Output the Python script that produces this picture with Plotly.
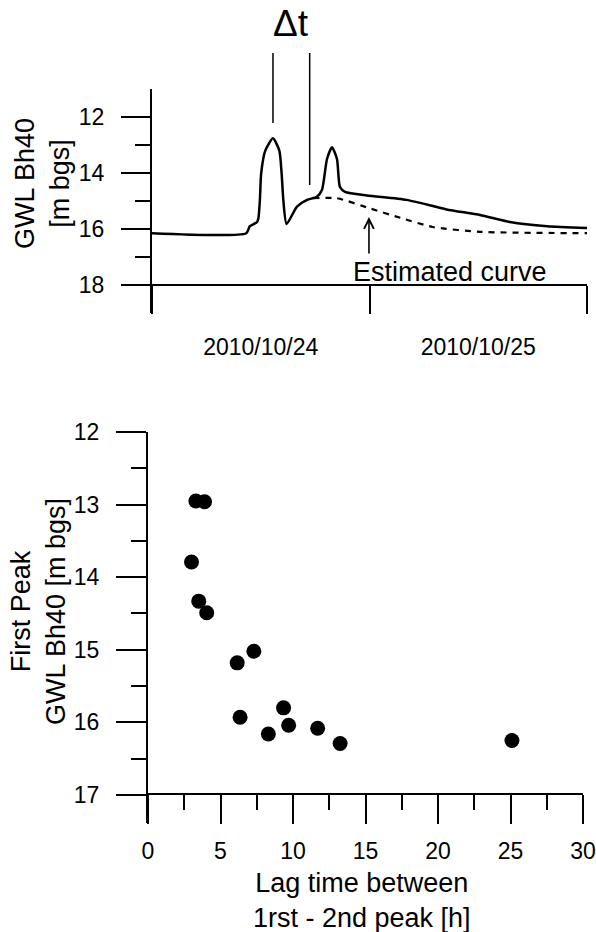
import plotly.graph_objects as go

# ---------------- data ----------------
# Top panel: groundwater level time series (hours since 2010-10-24 00:00)
obs_hours = [0, 10.4, 10.8, 11.6, 11.75, 11.9, 12.05, 12.5, 13.35, 14.05, 14.3, 14.5, 14.85,
             16.0, 17.1, 18.2, 18.76, 19.31, 19.86, 20.41, 20.74, 21.3, 23.7, 28.1, 32.5,
             36.2, 39.5, 43.6, 48]
obs_gwl = [16.15, 16.15, 15.9, 15.75, 15.6, 15.0, 14.0, 13.2, 12.76, 13.2, 14.0, 15.0, 15.82,
           15.2, 14.96, 14.85, 14.6, 13.5, 13.08, 13.5, 14.5, 14.67, 14.8, 14.96, 15.3,
           15.5, 15.75, 15.9, 15.96]
est_hours = [17.8, 20.4, 24.1, 27.4, 31.0, 36.2, 48]
est_gwl = [14.9, 14.9, 15.27, 15.6, 15.93, 16.1, 16.15]
day_labels = ["2010/10/24", "2010/10/25"]
day_label_pos = [12, 36]
peak_hours = [13.35, 17.4]   # first peak / start of second rise (Δt markers)

# Bottom panel: lag time vs first peak level
lag_h = [3.3, 3.9, 3.0, 3.5, 4.05, 6.15, 7.3, 6.35, 9.35, 9.7, 8.3, 11.7, 13.25, 25.1]
first_peak = [12.95, 12.96, 13.79, 14.33, 14.49, 15.18, 15.02, 15.93, 15.8, 16.04, 16.16,
              16.08, 16.29, 16.25]

FONT = "Liberation Sans, Arial, sans-serif"
BLACK = "#000000"

fig = go.Figure()

fig.add_trace(go.Scatter(x=obs_hours, y=obs_gwl, mode="lines",
                         line=dict(color=BLACK, width=2.5, shape="spline", smoothing=0.6),
                         xaxis="x", yaxis="y", showlegend=False))
fig.add_trace(go.Scatter(x=est_hours, y=est_gwl, mode="lines",
                         line=dict(color=BLACK, width=2.2, dash="6px,6px", shape="spline",
                                   smoothing=0.6),
                         xaxis="x", yaxis="y", showlegend=False))
fig.add_trace(go.Scatter(x=lag_h, y=first_peak, mode="markers",
                         marker=dict(color=BLACK, size=15),
                         xaxis="x2", yaxis="y2", showlegend=False))

tickfont = dict(family=FONT, size=23, color=BLACK)
titlefont = dict(family=FONT, size=27, color=BLACK)

fig.update_layout(
    width=596, height=932,
    margin=dict(l=0, r=0, t=0, b=0, autoexpand=False),
    paper_bgcolor="white", plot_bgcolor="white",
    font=dict(family=FONT, color=BLACK),
    xaxis=dict(domain=[152 / 596, 587 / 596], range=[0, 48], anchor="free",
               position=1 - 285 / 932, side="bottom",
               showline=True, linecolor=BLACK, linewidth=2,
               showgrid=False, zeroline=False,
               tickmode="array", tickvals=day_label_pos, ticktext=day_labels,
               ticks="outside", ticklen=28, tickcolor="rgba(0,0,0,0)",
               ticklabelstandoff=13, tickfont=tickfont,
               minor=dict(tickmode="linear", tick0=0, dtick=24, ticks="outside",
                          ticklen=28, tickwidth=2, tickcolor=BLACK, showgrid=False)),
    yaxis=dict(domain=[1 - 313 / 932, 1 - 89 / 932], range=[19, 11], anchor="x",
               showline=True, linecolor=BLACK, linewidth=2,
               showgrid=False, zeroline=False,
               tickmode="array", tickvals=[12, 14, 16, 18],
               ticks="outside", ticklen=29, tickwidth=2, tickcolor=BLACK,
               ticklabelstandoff=12, tickfont=tickfont,
               minor=dict(tickmode="array", tickvals=[13, 15, 17], ticks="outside",
                          ticklen=15, tickwidth=2, tickcolor=BLACK, showgrid=False)),
    xaxis2=dict(domain=[148 / 596, 583 / 596], range=[0, 30], anchor="free",
                position=1 - 794 / 932, side="bottom",
                showline=True, linecolor=BLACK, linewidth=2,
                showgrid=False, zeroline=False,
                tickmode="linear", tick0=0, dtick=5,
                ticks="outside", ticklen=29, tickwidth=2, tickcolor=BLACK,
                ticklabelstandoff=7, tickfont=tickfont,
                minor=dict(tickmode="linear", tick0=0, dtick=2.5, ticks="outside",
                           ticklen=15, tickwidth=2, tickcolor=BLACK, showgrid=False)),
    yaxis2=dict(domain=[1 - 823 / 932, 1 - 432 / 932], range=[17.386, 12], anchor="x2",
                showline=True, linecolor=BLACK, linewidth=2,
                showgrid=False, zeroline=False,
                tickmode="linear", tick0=12, dtick=1,
                ticks="outside", ticklen=30, tickwidth=2, tickcolor=BLACK,
                ticklabelstandoff=12, tickfont=tickfont,
                minor=dict(tickmode="linear", tick0=12, dtick=0.5, ticks="outside",
                           ticklen=15, tickwidth=2, tickcolor=BLACK, showgrid=False)),
)

# Δt marker lines (x in data hours, y in paper)
fig.add_shape(type="line", xref="x", yref="paper", x0=peak_hours[0], x1=peak_hours[0],
              y0=1 - 53 / 932, y1=1 - 123 / 932, line=dict(color=BLACK, width=1.5))
fig.add_shape(type="line", xref="x", yref="paper", x0=peak_hours[1], x1=peak_hours[1],
              y0=1 - 53 / 932, y1=1 - 185 / 932, line=dict(color=BLACK, width=1.5))

annotations = [
    dict(text="Δt", x=sum(peak_hours) / 2, xref="x", y=1 - 23 / 932, yref="paper",
         showarrow=False, font=dict(family=FONT, size=37, color=BLACK),
         xanchor="center", yanchor="middle"),
    dict(text="Estimated curve", x=32.9, xref="x", y=17.52, yref="y",
         showarrow=False, font=dict(family=FONT, size=27, color=BLACK),
         xanchor="center", yanchor="middle"),
    dict(text="", x=23.94, y=15.57, xref="x", yref="y", ax=23.94, ay=16.93,
         axref="x", ayref="y", showarrow=True, arrowhead=5, arrowsize=1.2,
         arrowwidth=1.6, arrowcolor=BLACK),
    dict(text="GWL Bh40<br>[m bgs]", x=42 / 596, y=1 - 184 / 932, xref="paper",
         yref="paper", textangle=-90, showarrow=False,
         font=titlefont, xanchor="center", yanchor="middle"),
    dict(text="First Peak<br>GWL Bh40 [m bgs]", x=38 / 596, y=1 - 612 / 932, xref="paper",
         yref="paper", textangle=-90, showarrow=False,
         font=titlefont, xanchor="center", yanchor="middle"),
    dict(text="Lag time between<br>1rst - 2nd peak [h]", x=362 / 596, y=1 - 900 / 932,
         xref="paper", yref="paper", showarrow=False,
         font=titlefont, xanchor="center", yanchor="middle"),
]
fig.update_layout(annotations=annotations)

fig.write_html("out.html")
